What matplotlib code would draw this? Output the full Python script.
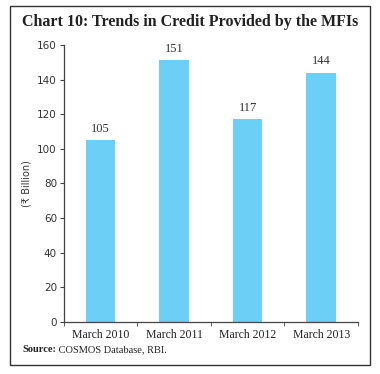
import matplotlib
matplotlib.use("Agg")
import matplotlib.pyplot as plt
from matplotlib.patches import Rectangle

# data
years = ["March 2010", "March 2011", "March 2012", "March 2013"]
credit = [105, 151, 117, 144]
yticks = [0, 20, 40, 60, 80, 100, 120, 140, 160]

fig = plt.figure(figsize=(3.8, 3.74), dpi=100)
ax = fig.add_axes([0.168, 0.139, 0.774, 0.741])

x = list(range(len(years)))
bars = ax.bar(x, credit, width=0.4, color="#6ccff6")
for b, v in zip(bars, credit):
    ax.text(b.get_x() + b.get_width() / 2, v + 3, str(v), ha="center", va="bottom",
            fontsize=9, color="#333333", family="Liberation Serif")

ax.set_xlim(-0.5, 3.5)
ax.set_ylim(0, 160)
ax.set_yticks(yticks)
ax.set_yticklabels([str(t) for t in yticks], family="DejaVu Sans", fontsize=7.5, color="#333333")
ax.set_xticks(x)
ax.set_xticklabels(years, family="Liberation Serif", fontsize=8.5, color="#222222")
ax.tick_params(axis="x", length=0, pad=5)
# tick marks sit between the categories
ax.set_xticks([-0.5, 0.5, 1.5, 2.5, 3.5], minor=True)
ax.tick_params(axis="x", which="minor", length=3, direction="out", color="#444444")
ax.tick_params(axis="y", length=3, direction="out", color="#444444", pad=2)
for s in ["top", "right"]:
    ax.spines[s].set_visible(False)
for s in ["left", "bottom"]:
    ax.spines[s].set_color("#444444")
    ax.spines[s].set_linewidth(0.9)

ax.set_ylabel("(\u20b9 Billion)", family="DejaVu Sans", fontsize=7, color="#333333", labelpad=4)

fig.text(0.5, 0.94, "Chart 10: Trends in Credit Provided by the MFIs", ha="center", va="center",
         family="Liberation Serif", fontweight="bold", fontsize=11.5, color="#222222")
src = fig.text(0.058, 0.058, "Source:", family="Liberation Serif", fontweight="bold",
               fontsize=7.5, color="#222222")
ax.annotate(" COSMOS Database, RBI.", xy=(1, 0), xycoords=src, va="bottom", ha="left",
            family="Liberation Serif", fontsize=7.5, color="#222222", annotation_clip=False)

# frame around the whole chart
fig.patches.append(Rectangle((0.026, 0.024), 0.948, 0.96, transform=fig.transFigure,
                             fill=False, edgecolor="#333333", linewidth=1.0))

fig.savefig("out.png", dpi=100)
